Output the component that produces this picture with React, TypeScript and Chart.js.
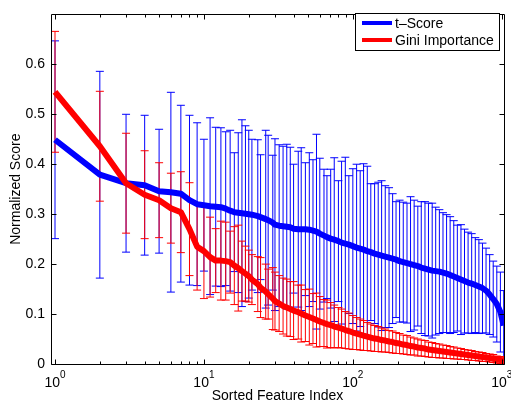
import React, { useEffect, useRef } from 'react';
import { Chart, registerables } from 'chart.js';

Chart.register(...registerables);

const FONT = '"Liberation Sans", Arial, Helvetica, sans-serif';

// Sorted feature indices at which the scores (and error bars) are shown
const featureIndex = [
  1, 2, 3, 4, 5, 6, 7, 8, 9, 10,
  11, 12, 13, 14, 15, 16, 17, 18, 19, 20,
  21, 23, 24, 26, 27, 29, 30, 32, 34, 36,
  38, 40, 43, 45, 48, 51, 54, 57, 60, 64,
  67, 71, 75, 80, 84, 89, 94, 100, 106, 112,
  118, 125, 132, 140, 148, 156, 165, 175, 185, 195,
  206, 218, 231, 244, 258, 273, 288, 305, 322, 341,
  360, 381, 403, 426, 450, 476, 503, 532, 562, 594,
  628, 664, 702, 742, 784, 829, 876, 926, 979, 1030,
];

// t-Score: normalized mean score
const tScoreMean = [
  0.449, 0.379, 0.362, 0.358, 0.346, 0.344, 0.341, 0.328, 0.320, 0.318,
  0.316, 0.315, 0.314, 0.311, 0.307, 0.304, 0.303, 0.302, 0.301, 0.300,
  0.299, 0.296, 0.294, 0.290, 0.288, 0.283, 0.279, 0.277, 0.276, 0.275,
  0.274, 0.271, 0.270, 0.270, 0.270, 0.269, 0.267, 0.265, 0.261, 0.257,
  0.254, 0.251, 0.249, 0.246, 0.243, 0.241, 0.239, 0.236, 0.233, 0.231,
  0.229, 0.226, 0.224, 0.221, 0.219, 0.217, 0.215, 0.213, 0.211, 0.209,
  0.206, 0.204, 0.202, 0.200, 0.198, 0.196, 0.193, 0.191, 0.189, 0.187,
  0.186, 0.185, 0.183, 0.181, 0.178, 0.175, 0.172, 0.169, 0.166, 0.163,
  0.161, 0.158, 0.155, 0.152, 0.147, 0.139, 0.130, 0.120, 0.104, 0.077,
];

// t-Score: error bar half-length
const tScoreStd = [
  0.198, 0.207, 0.138, 0.140, 0.124, 0.200, 0.177, 0.170, 0.163, 0.132,
  0.177, 0.159, 0.159, 0.154, 0.161, 0.119, 0.160, 0.187, 0.176, 0.168,
  0.151, 0.153, 0.125, 0.178, 0.170, 0.135, 0.172, 0.162, 0.160, 0.165,
  0.160, 0.129, 0.156, 0.163, 0.133, 0.154, 0.142, 0.195, 0.151, 0.133,
  0.123, 0.139, 0.164, 0.121, 0.163, 0.173, 0.138, 0.155, 0.167, 0.156,
  0.172, 0.170, 0.137, 0.140, 0.145, 0.150, 0.142, 0.140, 0.130, 0.116,
  0.122, 0.120, 0.120, 0.135, 0.130, 0.120, 0.132, 0.134, 0.133, 0.135,
  0.128, 0.124, 0.120, 0.118, 0.117, 0.112, 0.106, 0.110, 0.104, 0.101,
  0.100, 0.095, 0.094, 0.090, 0.085, 0.080, 0.076, 0.076, 0.080, 0.070,
];

// Gini importance: normalized mean score
const giniMean = [
  0.545, 0.436, 0.362, 0.339, 0.328, 0.312, 0.304, 0.270, 0.235, 0.226,
  0.214, 0.207, 0.207, 0.206, 0.204, 0.197, 0.192, 0.186, 0.181, 0.176,
  0.169, 0.160, 0.153, 0.145, 0.140, 0.131, 0.126, 0.121, 0.116, 0.113,
  0.110, 0.107, 0.104, 0.101, 0.097, 0.094, 0.091, 0.088, 0.085, 0.082,
  0.080, 0.078, 0.075, 0.073, 0.071, 0.068, 0.066, 0.063, 0.061, 0.059,
  0.057, 0.055, 0.053, 0.051, 0.050, 0.048, 0.047, 0.045, 0.044, 0.042,
  0.041, 0.039, 0.038, 0.036, 0.035, 0.033, 0.032, 0.031, 0.029, 0.028,
  0.027, 0.026, 0.025, 0.024, 0.023, 0.022, 0.021, 0.020, 0.019, 0.018,
  0.017, 0.016, 0.015, 0.014, 0.013, 0.012, 0.011, 0.009, 0.008, 0.007,
];

// Gini importance: error bar half-length
const giniStd = [
  0.121, 0.110, 0.100, 0.088, 0.075, 0.070, 0.081, 0.093, 0.087, 0.095,
  0.080, 0.064, 0.079, 0.078, 0.062, 0.078, 0.086, 0.060, 0.055, 0.052,
  0.050, 0.055, 0.060, 0.055, 0.050, 0.062, 0.058, 0.056, 0.056, 0.057,
  0.055, 0.058, 0.054, 0.057, 0.052, 0.056, 0.050, 0.054, 0.050, 0.047,
  0.048, 0.045, 0.043, 0.040, 0.039, 0.037, 0.036, 0.034, 0.032, 0.031,
  0.030, 0.028, 0.027, 0.026, 0.025, 0.024, 0.023, 0.022, 0.022, 0.021,
  0.020, 0.019, 0.019, 0.018, 0.017, 0.017, 0.016, 0.016, 0.015, 0.015,
  0.014, 0.014, 0.013, 0.013, 0.012, 0.012, 0.011, 0.011, 0.010, 0.010,
  0.010, 0.009, 0.009, 0.009, 0.008, 0.008, 0.008, 0.007, 0.007, 0.007,
];

const seriesLabels = ['t\u2013Score', 'Gini Importance'];
const seriesColors = ['#0000ff', '#ff0000'];

const xMajorTicks = [1, 10, 100, 1000];
const xMajorExponents = ['0', '1', '2', '3'];
const xMinorTicks = [
  2, 3, 4, 5, 6, 7, 8, 9,
  20, 30, 40, 50, 60, 70, 80, 90,
  200, 300, 400, 500, 600, 700, 800, 900,
];
const yTickMax = 0.6;

const xTitle = 'Sorted Feature Index';
const yTitle = 'Normalized Score';

const CAP = 4;

const errorBarPlugin = {
  id: 'errorBars',
  beforeDatasetsDraw(chart: any) {
    const { ctx, chartArea, scales } = chart;
    const x = scales.x;
    const y = scales.y;
    ctx.save();
    ctx.beginPath();
    ctx.rect(chartArea.left, chartArea.top, chartArea.right - chartArea.left, chartArea.bottom - chartArea.top);
    ctx.clip();
    ctx.lineWidth = 1;
    const series: [number[], number[], string][] = [
      [tScoreMean, tScoreStd, seriesColors[0]],
      [giniMean, giniStd, seriesColors[1]],
    ];
    for (const [m, s, c] of series) {
      ctx.strokeStyle = c;
      ctx.beginPath();
      featureIndex.forEach((fi, i) => {
        const px = x.getPixelForValue(fi);
        const top = y.getPixelForValue(m[i] + s[i]);
        const bot = y.getPixelForValue(m[i] - s[i]);
        ctx.moveTo(px, top);
        ctx.lineTo(px, bot);
        ctx.moveTo(px - CAP, top);
        ctx.lineTo(px + CAP, top);
        ctx.moveTo(px - CAP, bot);
        ctx.lineTo(px + CAP, bot);
      });
      ctx.stroke();
    }
    ctx.restore();
  },
};

const framePlugin = {
  id: 'frame',
  afterDatasetsDraw(chart: any) {
    const { ctx, chartArea, scales } = chart;
    const x = scales.x;
    const y = scales.y;
    const L = Math.round(chartArea.left) + 0.5;
    const R = Math.round(chartArea.right) + 0.5;
    const T = Math.round(chartArea.top) + 0.5;
    const B = Math.round(chartArea.bottom) + 0.5;
    ctx.save();
    ctx.strokeStyle = '#000';
    ctx.lineWidth = 1;
    ctx.beginPath();
    ctx.rect(L, T, R - L, B - T);
    // y ticks (left and right, inside)
    y.ticks.forEach((t: any) => {
      const py = Math.round(y.getPixelForValue(t.value)) + 0.5;
      ctx.moveTo(L, py);
      ctx.lineTo(L + 5, py);
      ctx.moveTo(R, py);
      ctx.lineTo(R - 5, py);
    });
    // x ticks (bottom and top, inside)
    xMajorTicks.forEach((v) => {
      const px = Math.round(x.getPixelForValue(v)) + 0.5;
      ctx.moveTo(px, B);
      ctx.lineTo(px, B - 5);
      ctx.moveTo(px, T);
      ctx.lineTo(px, T + 5);
    });
    xMinorTicks.forEach((v) => {
      const px = Math.round(x.getPixelForValue(v)) + 0.5;
      ctx.moveTo(px, B);
      ctx.lineTo(px, B - 3);
      ctx.moveTo(px, T);
      ctx.lineTo(px, T + 3);
    });
    ctx.stroke();
    ctx.restore();
  },
  afterDraw(chart: any) {
    const { ctx, chartArea, scales } = chart;
    const x = scales.x;
    ctx.save();
    ctx.fillStyle = '#000';
    // x tick labels 10^n
    xMajorTicks.forEach((v, i) => {
      const px = x.getPixelForValue(v);
      ctx.font = `14px ${FONT}`;
      const w1 = ctx.measureText('10').width;
      ctx.font = `10px ${FONT}`;
      const w2 = ctx.measureText(xMajorExponents[i]).width;
      const start = px - (w1 + w2) / 2;
      ctx.textAlign = 'left';
      ctx.textBaseline = 'alphabetic';
      ctx.font = `14px ${FONT}`;
      ctx.fillText('10', start, 387);
      ctx.font = `10px ${FONT}`;
      ctx.fillText(xMajorExponents[i], start + w1, 378);
    });
    // axis titles
    ctx.font = `14px ${FONT}`;
    ctx.textAlign = 'center';
    ctx.textBaseline = 'alphabetic';
    ctx.fillText(xTitle, (chartArea.left + chartArea.right) / 2, 400);
    ctx.save();
    ctx.translate(20, (chartArea.top + chartArea.bottom) / 2);
    ctx.rotate(-Math.PI / 2);
    ctx.fillText(yTitle, 0, 0);
    ctx.restore();

    // legend
    const lx = 355.5, ly = 13.5, lw = 144, lh = 37;
    ctx.fillStyle = '#fff';
    ctx.fillRect(lx, ly, lw, lh);
    ctx.strokeStyle = '#000';
    ctx.lineWidth = 1;
    ctx.strokeRect(lx, ly, lw, lh);
    const rows = [23, 40];
    chart.data.datasets.forEach((ds: any, i: number) => {
      const yy = rows[i];
      ctx.strokeStyle = ds.borderColor;
      ctx.lineWidth = 4;
      ctx.beginPath();
      ctx.moveTo(362, yy);
      ctx.lineTo(392, yy);
      ctx.stroke();
      ctx.fillStyle = '#000';
      ctx.font = `14px ${FONT}`;
      ctx.textAlign = 'left';
      ctx.textBaseline = 'middle';
      ctx.fillText(ds.label, 395, yy + 1);
    });
    ctx.restore();
  },
};

export default function App() {
  const canvasRef = useRef<HTMLCanvasElement | null>(null);

  useEffect(() => {
    document.body.style.margin = '0';
    const canvas = canvasRef.current;
    if (!canvas) return;
    const makePoints = (m: number[]) => featureIndex.map((fi, i) => ({ x: fi, y: m[i] }));
    const chart = new Chart(canvas, {
      type: 'line',
      data: {
        datasets: [
          {
            label: seriesLabels[0],
            data: makePoints(tScoreMean),
            borderColor: seriesColors[0],
            backgroundColor: seriesColors[0],
            borderWidth: 6,
            pointRadius: 0,
            tension: 0,
            fill: false,
            order: 1,
            borderJoinStyle: 'round',
          },
          {
            label: seriesLabels[1],
            data: makePoints(giniMean),
            borderColor: seriesColors[1],
            backgroundColor: seriesColors[1],
            borderWidth: 6,
            pointRadius: 0,
            tension: 0,
            fill: false,
            order: 0,
            borderJoinStyle: 'round',
          },
        ],
      },
      options: {
        animation: false,
        responsive: false,
        devicePixelRatio: 1,
        layout: { padding: { top: 7, right: 7, left: 0, bottom: 0 } },
        plugins: {
          legend: { display: false },
          tooltip: { enabled: false },
        },
        scales: {
          x: {
            type: 'logarithmic',
            min: 0.94,
            max: 1035,
            grid: { display: false, drawTicks: false },
            border: { display: false },
            ticks: { display: false },
            afterFit: (s: any) => { s.height = 37; },
          },
          y: {
            type: 'linear',
            min: 0,
            max: 0.7,
            grid: { display: false, drawTicks: false },
            border: { display: false },
            ticks: {
              stepSize: 0.1,
              padding: 6,
              color: '#000',
              font: { family: FONT, size: 14 },
              callback: (v: any) => (Math.abs(v) < 1e-9 ? '0' : Number(v).toFixed(1)),
            },
            afterBuildTicks: (s: any) => {
              s.ticks = s.ticks.filter((t: any) => t.value <= yTickMax + 1e-9);
            },
            afterFit: (s: any) => { s.width = 51; },
          },
        },
      } as any,
      plugins: [errorBarPlugin, framePlugin],
    });
    return () => chart.destroy();
  }, []);

  return (
    <div style={{ width: 511, height: 401 }}>
      <canvas ref={canvasRef} width={511} height={401} />
    </div>
  );
}
